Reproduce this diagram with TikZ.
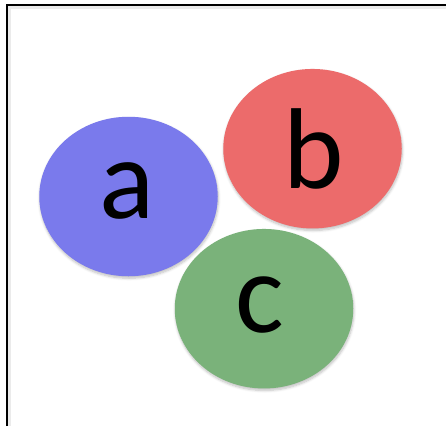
\documentclass[tikz,border=0pt]{standalone}
\usepackage{fontspec}
\setmainfont{Carlito}
\usetikzlibrary{shapes.geometric,shadows.blur}
\definecolor{blobblue}{RGB}{122,122,236}
\definecolor{blobred}{RGB}{236,107,107}
\definecolor{blobgreen}{RGB}{122,178,122}
\tikzset{
  blob/.style={ellipse, draw=none, minimum width=178.5pt, minimum height=159.5pt, inner sep=0pt,
    blur shadow={shadow xshift=0.6pt, shadow yshift=-2pt, shadow blur steps=6, shadow blur radius=2.5pt, shadow opacity=25}},
  lbl/.style={anchor=base, inner sep=0pt, font=\fontsize{115}{115}\selectfont},
  frameline/.style={line width=2.5pt, black},
  frameshade/.style={line width=3pt, black!8}
}
\begin{document}
\begin{tikzpicture}[x=1pt,y=-1pt]
\useasboundingbox (0,0) rectangle (446,426);
\coordinate (fl) at (7,426);
\coordinate (ftl) at (7,5);
\coordinate (ftr) at (446,5);
\coordinate (sl) at (9.5,426);
\coordinate (stl) at (9.5,7.5);
\coordinate (str) at (446,7.5);
\draw[frameshade] (sl) -- (stl) -- (str);
\draw[frameline] (fl) -- (ftl) -- (ftr);
\node[blob, fill=blobblue] (a) at (128.5,196.5) {};
\node[blob, fill=blobred] (b) at (312.5,148.7) {};
\node[blob, fill=blobgreen] (c) at (264,308.7) {};
\node[lbl] (ta) at (127,218) {a};
\node[lbl] (tb) at (314,188) {b};
\node[lbl] (tc) at (259.5,332) {c};
\end{tikzpicture}
\end{document}
